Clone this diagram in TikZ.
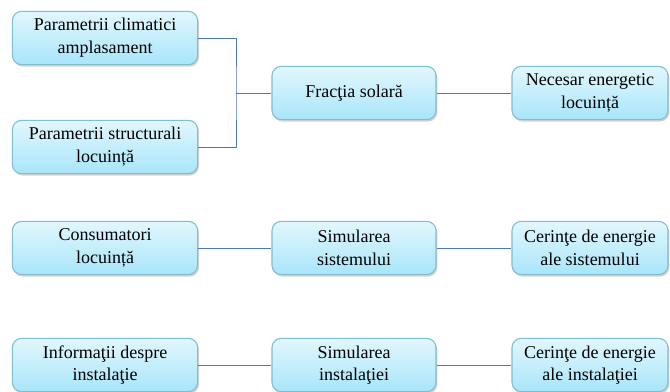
\documentclass[tikz,border=0pt]{standalone}
\usepackage{fontspec}
\setmainfont{Liberation Serif}
\usetikzlibrary{shadows}

\definecolor{boxtop}{HTML}{E2F7FD}
\definecolor{boxbot}{HTML}{A8E5FA}
\definecolor{boxline}{HTML}{7DBDD6}
\definecolor{linkblue}{HTML}{4F78C4}

\tikzset{
    stagebox/.style={draw=boxline, line width=0.8pt, rounded corners=7pt,
        top color=boxtop, bottom color=boxbot, align=center,
        font=\fontsize{13.5}{17}\selectfont, inner sep=2pt,
        drop shadow={shadow xshift=1pt, shadow yshift=-1.5pt, opacity=0.35}},
    link/.style={draw=linkblue, line width=0.7pt}
}

\begin{document}
\begin{tikzpicture}[x=0.75pt, y=-0.75pt]
        \useasboundingbox (0,0) rectangle (670,392);

        % Left column
        \node (climat) at (105,38) [stagebox, minimum width=139pt, minimum height=40pt] {Parametrii climatici\\amplasament};
        \node (struct) at (105,147) [stagebox, minimum width=139pt, minimum height=40pt] {Parametrii structurali\\locuință};
        \node (consum) at (105,248) [stagebox, minimum width=139pt, minimum height=40pt] {Consumatori\\locuință};
        \node (info) at (105,365) [stagebox, minimum width=139pt, minimum height=40pt] {Informaţii despre\\instalaţie};

        % Middle column
        \node (fractia) at (354,93) [stagebox, minimum width=123pt, minimum height=40pt] {Fracţia solară};
        \node (simsist) at (354,248) [stagebox, minimum width=123pt, minimum height=40pt] {Simularea\\sistemului};
        \node (siminst) at (354,365) [stagebox, minimum width=123pt, minimum height=40pt] {Simularea\\instalaţiei};

        % Right column
        \node (necesar) at (590,93) [stagebox, minimum width=117pt, minimum height=40pt] {Necesar energetic\\locuință};
        \node (cersist) at (590,248) [stagebox, minimum width=117pt, minimum height=40pt] {Cerinţe de energie\\ale sistemului};
        \node (cerinst) at (590,365) [stagebox, minimum width=117pt, minimum height=40pt] {Cerinţe de energie\\ale instalaţiei};

        % Bracket joining the two inputs
        \coordinate (join) at (236,93);
        \draw[link] (climat.east) -| (join) |- (struct.east);
        \draw[link] (join) -- (fractia.west);

        % Row connectors
        \draw[link] (fractia.east) -- (necesar.west);
        \draw[link] (consum.east) -- (simsist.west);
        \draw[link] (simsist.east) -- (cersist.west);
        \draw[link] (info.east) -- (siminst.west);
        \draw[link] (siminst.east) -- (cerinst.west);

    \end{tikzpicture}
\end{document}
